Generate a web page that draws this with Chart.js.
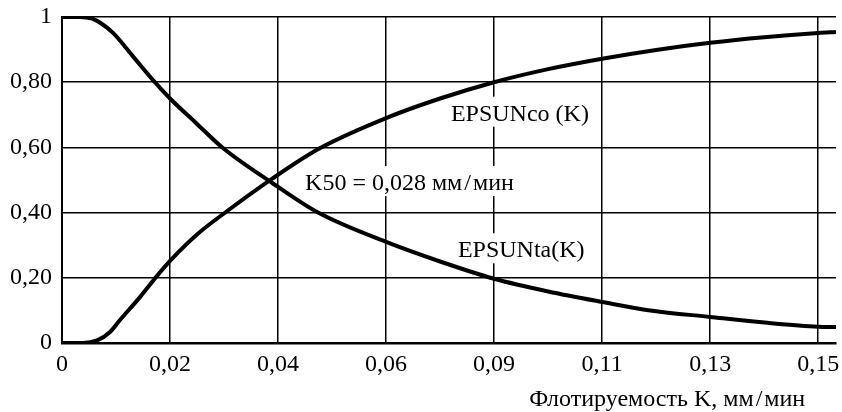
<!DOCTYPE html>
<html>
<head>
<meta charset="utf-8">
<script src="https://cdn.jsdelivr.net/npm/chart.js@4.4.0/dist/chart.umd.min.js"></script>
<style>
html,body{margin:0;padding:0;background:#fff}
#wrap{width:842px;height:412px;position:relative}
</style>
</head>
<body>
<div id="wrap"><canvas id="c"></canvas></div>
<script>
// ---- data ----
const taK   = [0, 0.0033, 0.0056, 0.0070, 0.0094, 0.0131, 0.0172, 0.0200, 0.0250, 0.0298, 0.0390, 0.0474, 0.0600, 0.0700, 0.0800, 0.0900, 0.1000, 0.1089, 0.1200, 0.1306, 0.1400, 0.1433];
const taVal = [1.000, 1.000, 0.995, 0.983, 0.952, 0.880, 0.800, 0.750, 0.672, 0.598, 0.490, 0.400, 0.310, 0.250, 0.197, 0.158, 0.126, 0.100, 0.080, 0.062, 0.050, 0.049];
const coK   = [0, 0.0039, 0.0065, 0.0089, 0.0107, 0.0144, 0.0172, 0.0200, 0.0250, 0.0298, 0.0390, 0.0478, 0.0600, 0.0700, 0.0800, 0.0900, 0.1000, 0.1100, 0.1200, 0.1300, 0.1400, 0.1433];
const coVal = [0.000, 0.000, 0.008, 0.034, 0.070, 0.140, 0.198, 0.252, 0.333, 0.395, 0.505, 0.598, 0.690, 0.750, 0.800, 0.840, 0.872, 0.899, 0.921, 0.938, 0.951, 0.954];

const xTickValues = [0, 0.02, 0.04, 0.06, 0.08, 0.10, 0.12, 0.14];
const xTickLabels = ['0', '0,02', '0,04', '0,06', '0,09', '0,11', '0,13', '0,15'];
const yTickValues = [0, 0.2, 0.4, 0.6, 0.8, 1];
const yTickLabels = ['0', '0,20', '0,40', '0,60', '0,80', '1'];

const seriesNames = ['EPSUNta(K)', 'EPSUNco (K)'];
const k50Text = 'K50 = 0,028 мм\u200A/\u200Aмин';
const xTitleText = 'Флотируемость K, мм\u200A/\u200Aмин';

// ---- chart ----
const FONT = '"Liberation Serif", "Times New Roman", serif';
Chart.defaults.font.family = FONT;
Chart.defaults.font.size = 24;
Chart.defaults.color = '#000';

const toPts = (xs, ys) => xs.map((x, i) => ({x: x, y: ys[i]}));

// annotation placement (data coordinates of text left / baseline)
const notes = [
  {text: seriesNames[1], x: 0.0720, y: 0.682},
  {text: k50Text,        x: 0.0450, y: 0.469},
  {text: seriesNames[0], x: 0.0733, y: 0.263}
];

const textPlugin = {
  id: 'texts',
  beforeDatasetsDraw(chart) {
    const ctx = chart.ctx, xs = chart.scales.x, ys = chart.scales.y;
    ctx.save();
    ctx.font = '24px ' + FONT;
    ctx.textBaseline = 'alphabetic';
    ctx.textAlign = 'left';
    notes.forEach(n => {
      const px = xs.getPixelForValue(n.x), py = ys.getPixelForValue(n.y);
      const w = ctx.measureText(n.text).width;
      ctx.fillStyle = '#fff';
      ctx.fillRect(px - 2, py - 24, w + 4, 30);
      ctx.fillStyle = '#000';
      ctx.fillText(n.text, px, py);
    });
    ctx.restore();
  },
  afterDraw(chart) {
    const ctx = chart.ctx, xs = chart.scales.x;
    ctx.save();
    ctx.font = '24px ' + FONT;
    ctx.fillStyle = '#000';
    ctx.textAlign = 'right';
    ctx.textBaseline = 'alphabetic';
    ctx.fillText(xTitleText, xs.getPixelForValue(0.1376), xs.bottom - 6);
    ctx.restore();
  }
};

new Chart(document.getElementById('c'), {
  type: 'line',
  data: {
    datasets: [
      {label: seriesNames[0], data: toPts(taK, taVal)},
      {label: seriesNames[1], data: toPts(coK, coVal)}
    ]
  },
  options: {
    responsive: true,
    maintainAspectRatio: false,
    animation: false,
    devicePixelRatio: 1,
    layout: {padding: {top: 17, right: 6, bottom: 0, left: 0}},
    elements: {
      line: {borderColor: '#000', borderWidth: 4, cubicInterpolationMode: 'monotone', fill: false},
      point: {radius: 0, hoverRadius: 0}
    },
    plugins: {legend: {display: false}, tooltip: {enabled: false}},
    scales: {
      x: {
        type: 'linear', min: 0, max: 0.1433,
        grid: {color: '#000', lineWidth: 1.5, drawTicks: false},
        border: {display: true, color: '#000', width: 2.5},
        afterBuildTicks(s) { s.ticks = xTickValues.map(v => ({value: v})); },
        ticks: {padding: 7, maxRotation: 0, autoSkip: false,
          callback: (v, i) => xTickLabels[i]},
        afterFit(s) { s.height = 69; s.paddingLeft = 0; s.paddingRight = 0; }
      },
      y: {
        type: 'linear', min: 0, max: 1,
        grid: {color: '#000', lineWidth: 1.5, drawTicks: false},
        border: {display: true, color: '#000', width: 2},
        afterBuildTicks(s) { s.ticks = yTickValues.map(v => ({value: v})); },
        ticks: {padding: 10, autoSkip: false,
          callback: (v, i) => yTickLabels[i]},
        afterFit(s) { s.width = 62; s.paddingTop = 0; s.paddingBottom = 0; }
      }
    }
  },
  plugins: [textPlugin]
});
</script>
</body>
</html>
